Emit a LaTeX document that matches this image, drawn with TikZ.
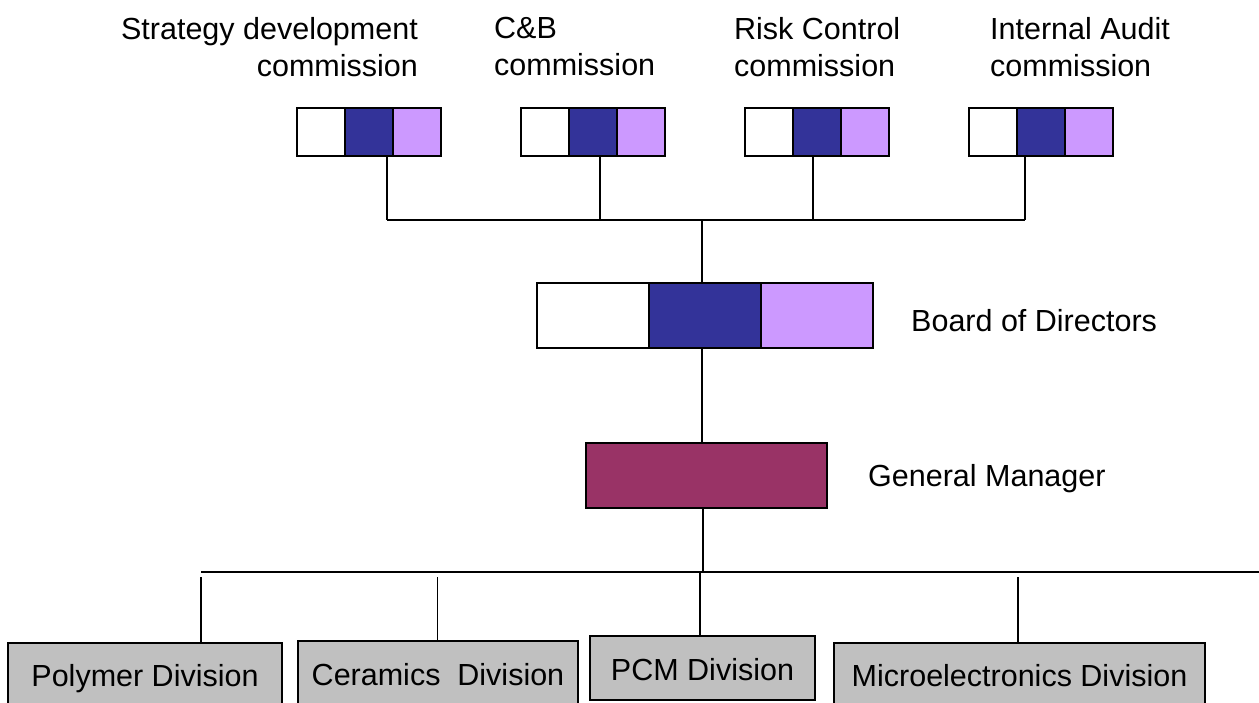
\documentclass[tikz,border=0pt]{standalone}
\usepackage{fontspec}
\setmainfont{Liberation Sans}
\definecolor{navy}{HTML}{333399}
\definecolor{lav}{HTML}{CC99FF}
\definecolor{plum}{HTML}{993366}
\definecolor{divgray}{HTML}{C0C0C0}
\begin{document}
\begin{tikzpicture}[x=1pt,y=-1pt,
  cell/.style={draw=black, line width=1.6pt, minimum width=48pt, minimum height=48pt, inner sep=0pt},
  bcell/.style={draw=black, line width=1.6pt, minimum width=112pt, minimum height=65pt, inner sep=0pt},
  gmbox/.style={draw=black, line width=1.6pt, fill=plum, minimum width=241pt, minimum height=65pt, inner sep=0pt},
  divbox/.style={draw=black, line width=1.4pt, fill=divgray, inner sep=0pt, text height=24pt, text depth=5.6pt,
    font=\fontsize{30.5pt}{36pt}\selectfont},
  lbl/.style={inner sep=0pt, font=\fontsize{30.5pt}{37.5pt}\selectfont},
  wire/.style={draw=black, line width=1.6pt}]
\path[use as bounding box] (0,0) rectangle (1259,702);

% top commission boxes
\foreach \i/\L in {1/297,2/521,3/745,4/969}{
  \node[cell, fill=white] (t\i a) at (\L+24,132) {};
  \node[cell, fill=navy]  (t\i b) at (\L+72,132) {};
  \node[cell, fill=lav]   (t\i c) at (\L+120,132) {};
}

% labels of commissions
\node[lbl, anchor=north east, align=right] (l1) at (418,17) {Strategy development\\commission};
\node[lbl, anchor=north west, align=left] (l2) at (494,17) {C\&B\\commission};
\node[lbl, anchor=north west, align=left] (l3) at (734,17) {Risk Control\\commission};
\node[lbl, anchor=north west, align=left] (l4) at (990,17) {Internal Audit\\commission};

% board of directors
\node[bcell, fill=white] (b1) at (593,315.5) {};
\node[bcell, fill=navy]  (b2) at (705,315.5) {};
\node[bcell, fill=lav]   (b3) at (817,315.5) {};
\node[lbl, anchor=base west] (blabel) at (911,331) {Board of Directors};

% general manager
\node[gmbox] (gm) at (706.5,475.5) {};
\node[lbl, anchor=base west] (gmlabel) at (868,486) {General Manager};

% divisions
\node[divbox, minimum width=274pt, minimum height=69pt] (poly) at (145,677.5) {Polymer Division};
\node[divbox, minimum width=280pt, minimum height=71pt] (cer) at (438,676.5) {Ceramics\ \ Division};
\node[divbox, minimum width=225pt, minimum height=64pt, text height=27pt, text depth=3pt] (pcm) at (702.5,668) {PCM Division};
\node[divbox, minimum width=371pt, minimum height=69pt] (micro) at (1019.5,677.5) {Microelectronics Division};

% connectors top
\coordinate (j1) at (387,220);
\coordinate (j2) at (600,220);
\coordinate (j3) at (813,220);
\coordinate (j4) at (1025,220);
\coordinate (jc) at (702,220);
\draw[wire] (t1b.south -| j1) -- (j1);
\draw[wire] (t2b.south -| j2) -- (j2);
\draw[wire] (t3b.south -| j3) -- (j3);
\draw[wire] (t4b.south -| j4) -- (j4);
\draw[wire] (j1) -- (j4);
\draw[wire] (jc) -- (b2.north -| jc);
\draw[wire] (b2.south -| jc) -- (gm.north -| jc);

% connectors bottom
\coordinate (k0) at (703,572);
\coordinate (busl) at (201,572);
\coordinate (busr) at (1259,572);
\draw[wire] (gm.south -| k0) -- (k0);
\draw[wire] (busl) -- (busr);
\coordinate (p1) at (201,577);
\coordinate (p2) at (437.5,577);
\coordinate (p3) at (700,572);
\coordinate (p4) at (1018,577);
\draw[wire] (p1) -- (poly.north -| p1);
\draw[wire] (p2) -- (cer.north -| p2);
\draw[wire] (p3) -- (pcm.north -| p3);
\draw[wire] (p4) -- (micro.north -| p4);
\end{tikzpicture}
\end{document}
